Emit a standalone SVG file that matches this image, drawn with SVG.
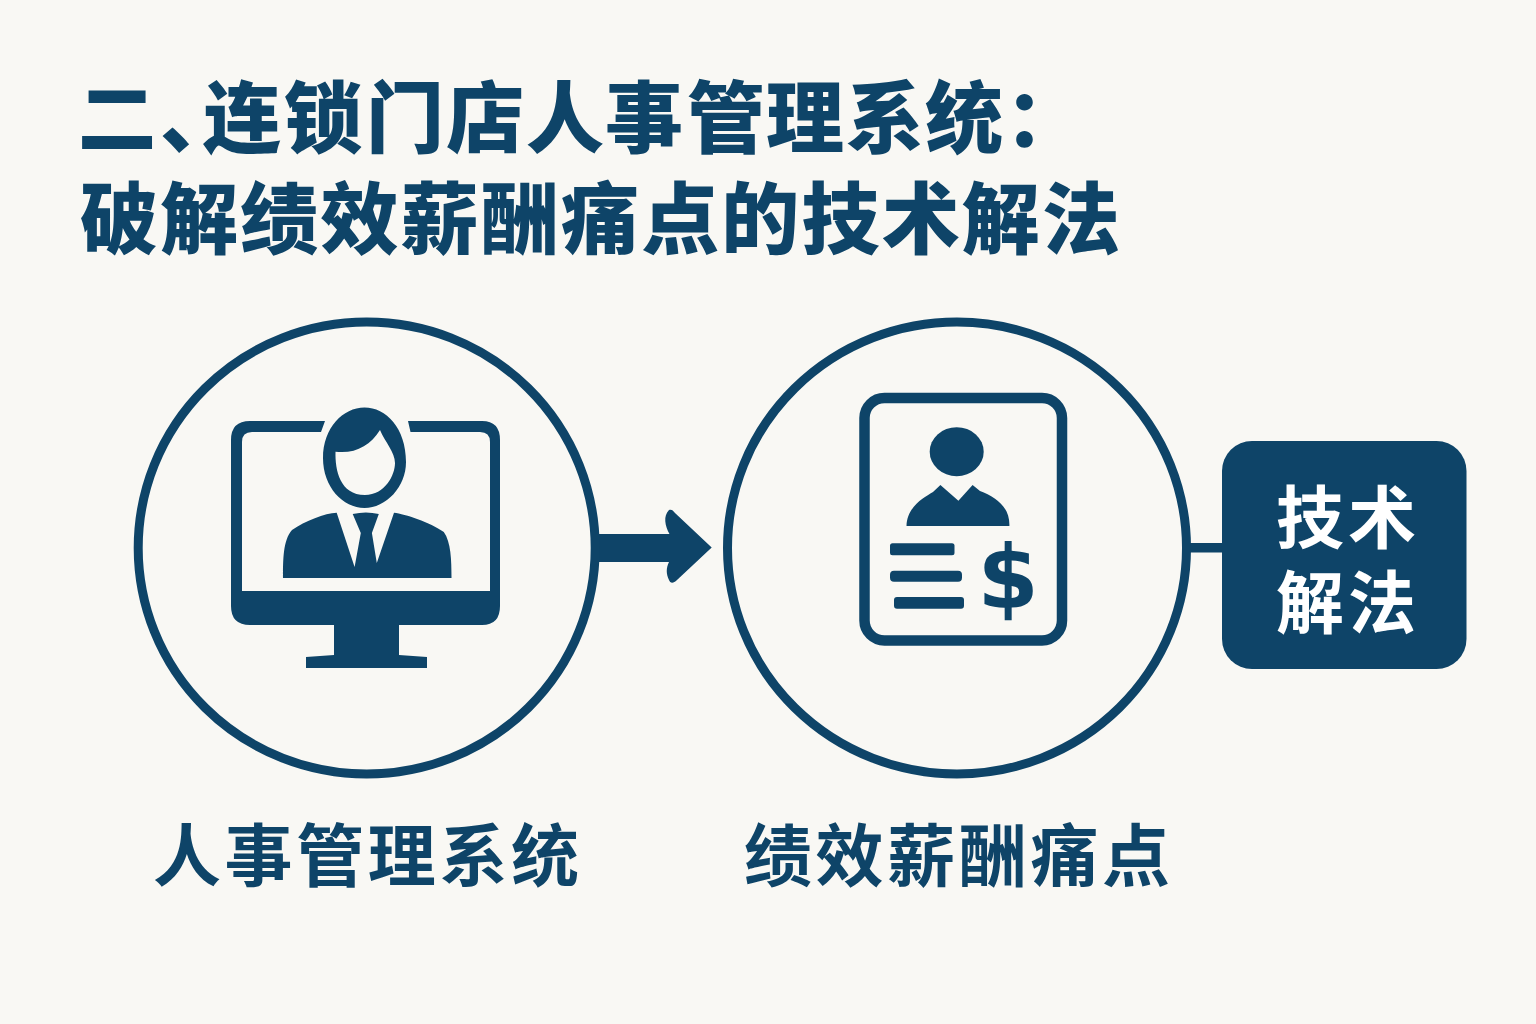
<svg xmlns="http://www.w3.org/2000/svg" width="1536" height="1024" viewBox="0 0 1536 1024">
<style>
.t{font-family:"Liberation Sans","Noto Sans CJK SC",sans-serif;font-weight:700;fill:#0e4468}
.h{font-weight:900}
.ring{fill:none;stroke:#0e4468;stroke-width:9}
.fill{fill:#0e4468}
.w{fill:#0e4468;fill-rule:evenodd}
</style>
<rect width="1536" height="1024" fill="#f9f8f4"/>
<g id="title">
<text class="t h" y="147" font-size="78" x="78 160 203 284 366 446 526 605 687 766 846 925 1005">二、连锁门店人事管理系统：</text>
<text class="t h" x="80" y="248" font-size="78" textLength="1040" lengthAdjust="spacing">破解绩效薪酬痛点的技术解法</text>
</g>
<g id="connectors">
<path class="fill" d="M598,534H669.5C665,526 663,516 669,510C671,509 673,510 675,513L711.7,547.5L677,580C673,584 670,583 669,580C666,574 666,568 669,562H598Z"/>
<rect class="fill" x="1190" y="543" width="34" height="9.5"/>
</g>
<g id="node-hr">
<ellipse class="ring" cx="366.7" cy="548" rx="228.5" ry="226"/>
<path class="w" d="M325,421H250Q231,421 231,440V606Q231,625 250,625H334V655L306,657V668H427V657L399,655V625H482Q500,625 500,606V440Q500,421 482,421H408L410.5,432H480Q490,432 490,442V591H242V442Q242,432 252,432H321Z"/>
<path class="w" d="M364.5,407.5C386,407.5 406,428 406,462C406,487 386,508 364.5,508C343,508 323,487 323,458C323,428 343,407.5 364.5,407.5ZM335.5,451.7C335,470 340,495 365,495C385,495 395,475 395,463C395,452 385,442 380,430C370,446 355,454 335.5,451.7Z"/>
<path class="fill" d="M283,578C283,560 283,540 292,530C305,521 325,513 336.7,512.7L354.6,567L360.8,533L352.7,514Q366,511 378.8,514L371.9,533L376.8,563L394,512.7C405,514 430,522 443.8,532C451,542 451.5,560 451.5,578Z"/>
<text class="t" x="366" y="881" font-size="68" text-anchor="middle" textLength="426" lengthAdjust="spacing">人事管理系统</text>
</g>
<g id="node-pain">
<ellipse class="ring" cx="957" cy="548" rx="229.5" ry="226"/>
<rect x="864.5" y="398" width="197.5" height="242.5" rx="20" fill="none" stroke="#0e4468" stroke-width="10.5"/>
<ellipse class="fill" cx="956.7" cy="451.7" rx="27" ry="24.5"/>
<path class="fill" d="M906.5,526C907,506 925,497 933,492L940.4,485L958.4,500.7L972.6,485L980,491C995,497 1010,506 1009.4,526Z"/>
<rect class="fill" x="890" y="543.3" width="64.5" height="12" rx="2.5"/>
<rect class="fill" x="890" y="570.7" width="72" height="11" rx="4"/>
<rect class="fill" x="894" y="597" width="70" height="11.7" rx="3"/>
<text x="1008" y="607" font-family="'DejaVu Sans',sans-serif" font-weight="700" font-size="88" text-anchor="middle" fill="#0e4468">$</text>
<text class="t" x="957" y="881" font-size="68" text-anchor="middle" textLength="426" lengthAdjust="spacing">绩效薪酬痛点</text>
</g>
<g id="node-tech">
<rect class="fill" x="1222" y="441" width="244.5" height="228" rx="30"/>
<text class="t" style="fill:#fff" x="1276" y="543" font-size="68" textLength="140" lengthAdjust="spacing">技术</text>
<text class="t" style="fill:#fff" x="1276" y="628" font-size="68" textLength="140" lengthAdjust="spacing">解法</text>
</g>
</svg>
